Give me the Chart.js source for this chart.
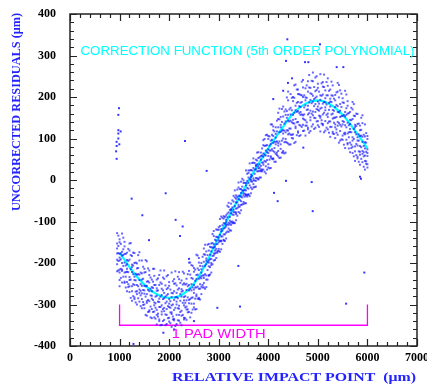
<!DOCTYPE html>
<html>
<head>
<meta charset="utf-8">
<script src="https://cdn.jsdelivr.net/npm/chart.js@4/dist/chart.umd.min.js"></script>
<style>
  html, body { margin: 0; padding: 0; background: #ffffff; }
  canvas { display: block; }
</style>
</head>
<body>
<canvas id="residuals" width="427" height="387"></canvas>
<script>
/* ------------------------------------------------------------
   Uncorrected residuals vs relative impact point
   Values.
------------------------------------------------------------ */

// axis ticks
var xTicks = [0, 1000, 2000, 3000, 4000, 5000, 6000, 7000];
var yTicks = [-400, -300, -200, -100, 0, 100, 200, 300, 400];

// scatter cloud, one column of residuals per impact point
var cloudX = [950, 1000, 1050, 1100, 1150, 1200, 1250, 1300, 1350, 1400, 1450, 1500,
  1550, 1600, 1650, 1700, 1750, 1800, 1850, 1900, 1950, 2000, 2050, 2100, 2150, 2200,
  2250, 2300, 2350, 2400, 2450, 2500, 2550, 2600, 2650, 2700, 2750, 2800, 2850, 2900,
  2950, 3000, 3050, 3100, 3150, 3200, 3250, 3300, 3350, 3400, 3450, 3500, 3550, 3600,
  3650, 3700, 3750, 3800, 3850, 3900, 3950, 4000, 4050, 4100, 4150, 4200, 4250, 4300,
  4350, 4400, 4450, 4500, 4550, 4600, 4650, 4700, 4750, 4800, 4850, 4900, 4950, 5000,
  5050, 5100, 5150, 5200, 5250, 5300, 5350, 5400, 5450, 5500, 5550, 5600, 5650, 5700,
  5750, 5800, 5850, 5900, 5950, 6000];
var cloudY = [
  [-128, -153, -165, -177, -192, -203, -220],
  [-143, -150, -178, -187, -194, -216, -223, -241, -256],
  [-129, -173, -182, -200, -216, -219, -247],
  [-149, -160, -178, -199, -223, -245, -248],
  [-175, -193, -203, -214, -221, -246, -268],
  [-153, -170, -192, -234, -241, -256, -270],
  [-183, -204, -210, -222, -256, -268, -291],
  [-176, -200, -233, -241, -253, -283, -287],
  [-201, -213, -228, -253, -268, -275, -300],
  [-174, -194, -228, -241, -264, -272, -293],
  [-194, -225, -240, -255, -273, -287, -309],
  [-214, -223, -255, -266, -274, -300, -309],
  [-196, -245, -255, -275, -292, -296, -327],
  [-218, -229, -247, -268, -292, -314, -317],
  [-240, -258, -268, -279, -286, -311, -333],
  [-214, -231, -253, -295, -302, -317, -331],
  [-240, -261, -267, -279, -313, -325, -348],
  [-229, -253, -286, -294, -306, -336, -340],
  [-250, -262, -277, -302, -317, -324, -349],
  [-218, -238, -272, -285, -308, -316, -337],
  [-232, -263, -278, -293, -311, -325, -347],
  [-246, -255, -287, -298, -306, -332, -341],
  [-223, -272, -282, -302, -319, -323, -354],
  [-239, -250, -268, -289, -313, -335, -338],
  [-254, -272, -282, -293, -300, -325, -347],
  [-222, -239, -261, -303, -310, -325, -339],
  [-242, -263, -269, -281, -315, -327, -350],
  [-225, -249, -282, -290, -302, -332, -336],
  [-238, -250, -265, -290, -305, -312, -337],
  [-199, -219, -253, -266, -289, -297, -318],
  [-205, -236, -251, -266, -284, -298, -320],
  [-212, -221, -253, -264, -272, -298, -307],
  [-180, -229, -239, -259, -276, -280, -311],
  [-188, -199, -217, -238, -262, -284, -287],
  [-200, -215, -223, -232, -237, -257, -275],
  [-165, -179, -197, -230, -236, -248, -259],
  [-172, -189, -194, -203, -230, -240, -258],
  [-154, -170, -194, -199, -208, -229, -231],
  [-153, -162, -172, -190, -200, -205, -223],
  [-123, -135, -155, -163, -177, -182, -194],
  [-119, -137, -146, -155, -166, -175, -188],
  [-114, -120, -139, -145, -150, -166, -171],
  [-88, -118, -124, -136, -146, -148, -167],
  [-87, -93, -104, -117, -131, -144, -146],
  [-85, -96, -102, -108, -112, -127, -141],
  [-55, -65, -78, -103, -108, -117, -125],
  [-57, -70, -73, -80, -101, -108, -122],
  [-38, -52, -72, -77, -84, -102, -104],
  [-37, -45, -54, -69, -78, -82, -97],
  [-6, -18, -38, -46, -60, -65, -77],
  [-4, -22, -31, -40, -51, -60, -73],
  [-1, -7, -26, -32, -37, -53, -58],
  [23, -7, -13, -25, -35, -37, -56],
  [23, 17, 6, -7, -21, -34, -36],
  [24, 13, 7, 1, -3, -18, -32],
  [52, 42, 29, 4, -1, -10, -18],
  [49, 36, 33, 26, 5, -2, -16],
  [67, 53, 33, 28, 21, 3, 1],
  [66, 58, 49, 34, 25, 21, 6],
  [96, 84, 64, 56, 42, 37, 25],
  [108, 83, 71, 59, 44, 33, 16],
  [106, 99, 74, 65, 58, 38, 30],
  [134, 95, 87, 71, 57, 54, 29],
  [129, 120, 106, 89, 70, 52, 50],
  [127, 111, 102, 92, 86, 63, 44],
  [162, 147, 127, 89, 83, 70, 57],
  [152, 133, 127, 116, 86, 75, 54],
  [177, 153, 120, 112, 100, 70, 66],
  [170, 157, 141, 115, 99, 92, 66],
  [213, 192, 157, 143, 119, 110, 88],
  [207, 174, 158, 143, 124, 109, 86],
  [200, 190, 157, 145, 137, 110, 100],
  [230, 179, 168, 147, 129, 125, 92],
  [218, 207, 188, 166, 140, 117, 114],
  [205, 186, 176, 164, 157, 131, 108],
  [241, 223, 200, 156, 148, 133, 118],
  [221, 199, 192, 180, 144, 131, 107],
  [238, 213, 179, 170, 158, 126, 122],
  [222, 209, 193, 167, 151, 144, 118],
  [259, 238, 203, 189, 165, 156, 134],
  [247, 214, 198, 183, 164, 149, 126],
  [232, 222, 189, 177, 169, 142, 132],
  [255, 204, 193, 172, 154, 150, 117],
  [236, 225, 206, 184, 158, 135, 132],
  [216, 197, 187, 175, 168, 142, 119],
  [245, 227, 204, 160, 152, 137, 122],
  [218, 196, 189, 177, 141, 128, 104],
  [228, 203, 169, 160, 148, 116, 112],
  [205, 192, 176, 150, 134, 127, 101],
  [234, 213, 178, 164, 140, 131, 109],
  [216, 183, 167, 152, 133, 118, 95],
  [197, 187, 154, 142, 134, 107, 97],
  [215, 164, 153, 132, 114, 110, 77],
  [190, 179, 160, 138, 112, 89, 86],
  [164, 145, 135, 123, 116, 90, 67],
  [188, 170, 147, 103, 95, 80, 65],
  [154, 133, 127, 115, 81, 69, 46],
  [159, 135, 103, 95, 83, 56, 52],
  [131, 120, 106, 82, 68, 61, 37],
  [156, 137, 104, 92, 70, 63, 43],
  [134, 105, 91, 76, 59, 46, 25],
  [106, 99, 74, 65, 58, 38, 30]
];

// second set of columns, between the ones above
var cloudMidX = [975, 1025, 1075, 1125, 1175, 1225, 1275, 1325, 1375, 1425, 1475, 1525,
  1575, 1625, 1675, 1725, 1775, 1825, 1875, 1925, 1975, 2025, 2075, 2125, 2175, 2225,
  2275, 2325, 2375, 2425, 2475, 2525, 2575, 2625, 2675, 2725, 2775, 2825, 2875, 2925,
  2975, 3025, 3075, 3125, 3175, 3225, 3275, 3325, 3375, 3425, 3475, 3525, 3575, 3625,
  3675, 3725, 3775, 3825, 3875, 3925, 3975, 4025, 4075, 4125, 4175, 4225, 4275, 4325,
  4375, 4425, 4475, 4525, 4575, 4625, 4675, 4725, 4775, 4825, 4875, 4925, 4975, 5025,
  5075, 5125, 5175, 5225, 5275, 5325, 5375, 5425, 5475, 5525, 5575, 5625, 5675, 5725,
  5775, 5825, 5875, 5925, 5975];
var cloudMidY = [
  [-134, -159, -176, -195, -218],
  [-154, -177, -191, -214, -236],
  [-139, -167, -181, -207, -233],
  [-178, -206, -222, -233, -259],
  [-166, -195, -222, -251, -258],
  [-152, -181, -215, -240, -284],
  [-175, -206, -227, -251, -280],
  [-199, -226, -242, -269, -295],
  [-181, -212, -227, -256, -285],
  [-223, -251, -267, -278, -304],
  [-209, -238, -265, -294, -301],
  [-193, -222, -256, -281, -325],
  [-213, -244, -265, -289, -318],
  [-235, -262, -278, -305, -331],
  [-214, -245, -260, -289, -318],
  [-253, -281, -297, -308, -334],
  [-237, -266, -293, -322, -329],
  [-218, -247, -281, -306, -350],
  [-235, -266, -287, -311, -340],
  [-254, -281, -297, -324, -350],
  [-229, -260, -275, -304, -333],
  [-264, -292, -308, -319, -345],
  [-244, -273, -300, -329, -336],
  [-220, -249, -283, -308, -352],
  [-233, -264, -285, -309, -338],
  [-248, -275, -291, -318, -344],
  [-221, -252, -267, -296, -325],
  [-252, -280, -296, -307, -333],
  [-227, -256, -283, -312, -319],
  [-199, -228, -262, -287, -331],
  [-207, -238, -259, -283, -312],
  [-216, -243, -259, -286, -312],
  [-182, -213, -228, -257, -286],
  [-207, -235, -251, -262, -288],
  [-185, -208, -230, -253, -259],
  [-156, -180, -207, -227, -262],
  [-156, -181, -198, -217, -240],
  [-161, -180, -191, -210, -228],
  [-130, -152, -163, -183, -203],
  [-144, -161, -170, -177, -193],
  [-120, -137, -154, -171, -175],
  [-94, -111, -132, -147, -173],
  [-91, -109, -122, -136, -154],
  [-89, -105, -115, -131, -147],
  [-62, -81, -90, -107, -124],
  [-72, -89, -98, -105, -121],
  [-49, -66, -83, -100, -104],
  [-25, -42, -63, -78, -104],
  [-23, -41, -54, -68, -86],
  [-22, -38, -48, -64, -80],
  [3, -16, -25, -42, -59],
  [-7, -24, -33, -40, -56],
  [15, -2, -19, -36, -40],
  [40, 23, 2, -13, -39],
  [41, 23, 10, -4, -22],
  [41, 25, 15, -1, -17],
  [66, 47, 38, 21, 4],
  [55, 38, 29, 22, 6],
  [76, 59, 42, 25, 21],
  [99, 82, 61, 46, 20],
  [109, 84, 67, 48, 25],
  [105, 83, 71, 49, 28],
  [134, 109, 97, 74, 51],
  [117, 92, 77, 67, 44],
  [143, 117, 93, 66, 60],
  [172, 146, 115, 93, 53],
  [171, 140, 119, 95, 66],
  [165, 136, 119, 91, 64],
  [199, 166, 150, 120, 90],
  [170, 141, 124, 112, 85],
  [198, 168, 139, 109, 101],
  [228, 198, 162, 136, 89],
  [218, 186, 164, 139, 108],
  [207, 178, 161, 133, 106],
  [237, 204, 188, 158, 128],
  [204, 175, 158, 146, 119],
  [228, 198, 169, 139, 131],
  [253, 223, 187, 161, 114],
  [239, 207, 185, 160, 129],
  [224, 195, 178, 150, 123],
  [250, 217, 201, 171, 141],
  [213, 184, 167, 155, 128],
  [233, 203, 174, 144, 136],
  [254, 224, 188, 162, 115],
  [236, 204, 182, 157, 126],
  [215, 186, 169, 141, 114],
  [237, 204, 188, 158, 128],
  [196, 167, 150, 138, 111],
  [211, 181, 152, 122, 114],
  [229, 199, 163, 137, 90],
  [208, 176, 154, 129, 98],
  [186, 157, 140, 112, 85],
  [206, 173, 157, 127, 97],
  [161, 132, 115, 103, 76],
  [174, 144, 115, 85, 77],
  [183, 155, 123, 99, 57],
  [160, 130, 110, 87, 60],
  [136, 110, 95, 69, 44],
  [150, 121, 107, 79, 51],
  [109, 82, 67, 57, 32],
  [113, 90, 68, 45, 39]
];

// isolated points away from the band
var strayX = [988, 975, 975, 1022, 975, 975, 940, 995, 941, 930, 941, 1244, 1459, 1594,
  1930, 2131, 2219, 2273, 2320, 2757, 2972, 3396, 3430, 1883, 1280, 2100, 2500, 2400,
  4115, 4189, 4357, 4876, 4896, 4707, 5850, 5870, 5570, 5937, 4384, 5043, 4357, 4741,
  4808, 5380, 5514, 4100, 4397, 4300, 4480];
var strayY = [173, 157, 120, 117, 112, 100, 92, 86, 82, 69, 51, -45, -85, -145,
  -32, -96, -135, -112, 94, 22, -308, -207, -305, -368, -395, -360, -340, -190,
  -31, -51, -2, -5, -75, 78, 8, 3, -298, -223, 339, 327, 287, 284,
  284, 272, 272, 195, 234, 215, 245];

// correction function (5th order polynomial)
var curveX = [1000, 1250, 1500, 1750, 2000, 2250, 2500, 2750, 3000, 3250, 3500,
  3750, 4000, 4250, 4500, 4750, 5000, 5250, 5500, 5750, 6000];
var curveY = [-175, -218, -252, -275, -284, -277, -250, -200, -137, -78, -24,
  28, 76, 120, 160, 184, 192, 182, 157, 119, 76];

// "1 pad width" bracket
var padX = [1000, 1000, 6000, 6000];
var padY = [-300, -350, -350, -300];

/* ------------------------------------------------------------
   Helpers
------------------------------------------------------------ */
function pairs(xs, ys) {
  return xs.map(function (x, i) { return { x: x, y: ys[i] }; });
}

function columnPoints(xs, cols) {
  var out = [];
  xs.forEach(function (x, i) {
    cols[i].forEach(function (y) { out.push({ x: x, y: y }); });
  });
  return out;
}

// draw text stretched/squeezed horizontally to a target width
function fitText(ctx, text, cx, cy, width, font, color, rot) {
  ctx.save();
  ctx.font = font;
  var w = ctx.measureText(text).width;
  ctx.translate(cx, cy);
  if (rot) ctx.rotate(rot);
  ctx.scale(width / w, 1);
  ctx.textAlign = 'center';
  ctx.textBaseline = 'middle';
  ctx.fillStyle = color;
  ctx.fillText(text, 0, 0);
  ctx.restore();
}

/* ------------------------------------------------------------
   Frame, inward ticks on all four sides, and annotations
------------------------------------------------------------ */
var framePlugin = {
  id: 'frame',
  afterDatasetsDraw: function (chart) {
    var ctx = chart.ctx;
    var a = chart.chartArea;
    var xs = chart.scales.x;
    var ys = chart.scales.y;

    ctx.save();
    ctx.strokeStyle = '#222222';
    ctx.lineWidth = 1.5;
    ctx.strokeRect(a.left, a.top, a.right - a.left, a.bottom - a.top);

    ctx.lineWidth = 1.2;
    ctx.beginPath();
    var v, p, len;
    for (v = 0; v <= 7000; v += 200) {
      p = Math.round(xs.getPixelForValue(v)) + 0.5;
      len = (v % 1000 === 0) ? 7 : 4;
      ctx.moveTo(p, a.bottom); ctx.lineTo(p, a.bottom - len);
      ctx.moveTo(p, a.top); ctx.lineTo(p, a.top + len);
    }
    for (v = -400; v <= 400; v += 20) {
      p = Math.round(ys.getPixelForValue(v)) + 0.5;
      len = (v % 100 === 0) ? 7 : 4;
      ctx.moveTo(a.left, p); ctx.lineTo(a.left + len, p);
      ctx.moveTo(a.right, p); ctx.lineTo(a.right - len, p);
    }
    ctx.stroke();
    ctx.restore();

    fitText(ctx, 'CORRECTION FUNCTION (5th ORDER POLYNOMIAL)',
      xs.getPixelForValue(3580), ys.getPixelForValue(308), 334,
      '12px "Liberation Sans", Arial, sans-serif', '#00ffff');
    fitText(ctx, '1 PAD WIDTH',
      xs.getPixelForValue(3000), ys.getPixelForValue(-371), 94,
      '13px "Liberation Sans", Arial, sans-serif', '#ff00ff');

    // axis titles
    fitText(ctx, 'RELATIVE IMPACT POINT  (\u03bcm)', 294, 378, 244,
      'bold 12px "Liberation Serif", "Times New Roman", serif', '#2323ff');
    fitText(ctx, 'UNCORRECTED RESIDUALS (\u03bcm)', 17, 112, 198,
      'bold 13px "Liberation Serif", "Times New Roman", serif', '#2323ff', -Math.PI / 2);
  }
};

/* ------------------------------------------------------------
   Chart
------------------------------------------------------------ */
var tickFont = { family: '"Liberation Serif", "Times New Roman", serif', size: 12, weight: 'bold' };
var dotColor = 'rgba(0, 0, 255, 0.6)';

function plainLabel(value) { return String(value); }

new Chart(document.getElementById('residuals'), {
  type: 'scatter',
  data: {
    datasets: [
      {
        label: 'residuals',
        data: columnPoints(cloudX, cloudY).concat(columnPoints(cloudMidX, cloudMidY)),
        pointStyle: 'rect',
        pointRadius: 1.4,
        borderWidth: 0,
        backgroundColor: dotColor
      },
      {
        label: 'stray',
        data: pairs(strayX, strayY),
        pointStyle: 'rect',
        pointRadius: 1.4,
        borderWidth: 0,
        backgroundColor: 'rgba(0, 0, 255, 0.8)'
      },
      {
        label: 'correction',
        data: pairs(curveX, curveY),
        showLine: true,
        cubicInterpolationMode: 'monotone',
        borderColor: '#00ffff',
        borderWidth: 2.2,
        pointRadius: 0
      },
      {
        label: 'pad',
        data: pairs(padX, padY),
        showLine: true,
        tension: 0,
        borderColor: '#ff00ff',
        borderWidth: 1.3,
        pointRadius: 0
      }
    ]
  },
  options: {
    responsive: false,
    animation: false,
    devicePixelRatio: 1,
    layout: { padding: { left: 0, right: 10, top: 14, bottom: 0 } },
    plugins: {
      legend: { display: false },
      tooltip: { enabled: false }
    },
    scales: {
      x: {
        type: 'linear',
        min: 0,
        max: 7000,
        afterFit: function (scale) {
          scale.height = 41;
          scale.paddingLeft = 0;
          scale.paddingRight = 0;
        },
        afterBuildTicks: function (scale) {
          scale.ticks = xTicks.map(function (v) { return { value: v }; });
        },
        grid: { display: false, drawTicks: false },
        border: { display: false },
        ticks: { font: tickFont, color: '#000000', padding: 5, maxRotation: 0, callback: plainLabel }
      },
      y: {
        type: 'linear',
        min: -400,
        max: 400,
        afterFit: function (scale) {
          scale.width = 70;
          scale.paddingTop = 0;
          scale.paddingBottom = 0;
        },
        afterBuildTicks: function (scale) {
          scale.ticks = yTicks.map(function (v) { return { value: v }; });
        },
        grid: { display: false, drawTicks: false },
        border: { display: false },
        ticks: { font: tickFont, color: '#000000', padding: 14, callback: plainLabel }
      }
    }
  },
  plugins: [framePlugin]
});
</script>
</body>
</html>
